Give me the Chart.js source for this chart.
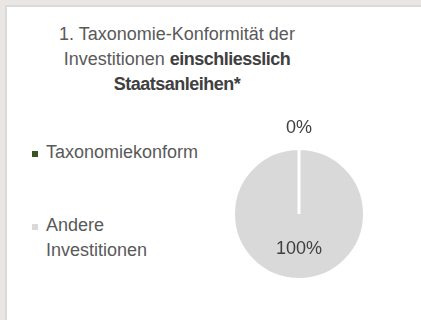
<!DOCTYPE html>
<html lang="de">
<head>
<meta charset="utf-8">
<script src="https://cdn.jsdelivr.net/npm/chart.js@4/dist/chart.umd.min.js"></script>
<style>
  html, body { margin: 0; padding: 0; width: 421px; height: 320px; overflow: hidden; background: #e9e6e3; }
  body { position: relative; font-family: "Liberation Sans", Arial, sans-serif; }
  #panel { position: absolute; left: 5px; top: 5px; right: 0; bottom: 0; background: #fff;
           border-left: 2px solid #dadada; border-top: 2px solid #dadada; }
  #title { position: absolute; left: 27px; top: 22px; width: 300px; text-align: center;
           font-size: 18px; line-height: 25px; color: #595959; white-space: nowrap; }
  #title b { color: #404040; letter-spacing: -0.5px; }
  #legend { position: absolute; left: 32px; top: 140px; font-size: 18px; line-height: 25px; color: #595959; }
  .item { position: relative; padding-left: 14px; }
  .item .box { position: absolute; left: 0; top: 11px; width: 6px; height: 6px; }
  #chart { position: absolute; left: 0; top: 0; }
</style>
</head>
<body>
<div id="panel"></div>
<div id="title">1. Taxonomie-Konformität der<br>Investitionen <b>einschliesslich</b><br><b>Staatsanleihen*</b></div>
<div id="legend"></div>
<canvas id="chart" width="421" height="320"></canvas>
<script>
// Share of investments (percent)
const categories = ["Taxonomiekonform", "Andere Investitionen"];
const legendLines = [["Taxonomiekonform"], ["Andere", "Investitionen"]];
const values = [0, 100];
const colors = ["#375623", "#d9d9d9"];

// Legend built from the same arrays
const legend = document.getElementById("legend");
categories.forEach((name, i) => {
  const item = document.createElement("div");
  item.className = "item";
  item.style.marginBottom = i === 0 ? "48px" : "0";
  const box = document.createElement("span");
  box.className = "box";
  box.style.background = colors[i];
  item.appendChild(box);
  item.appendChild(document.createTextNode(legendLines[i][0]));
  for (let k = 1; k < legendLines[i].length; k++) {
    item.appendChild(document.createElement("br"));
    item.appendChild(document.createTextNode(legendLines[i][k]));
  }
  legend.appendChild(item);
});

// Percentage labels: zero slices outside the rim, others inside
const sliceLabels = {
  id: "sliceLabels",
  afterDatasetsDraw(chart) {
    const ctx = chart.ctx;
    const meta = chart.getDatasetMeta(0);
    ctx.save();
    ctx.font = '18px "Liberation Sans", Arial, sans-serif';
    ctx.fillStyle = "#404040";
    ctx.textAlign = "center";
    ctx.textBaseline = "middle";
    meta.data.forEach((arc, i) => {
      const v = chart.data.datasets[0].data[i];
      const p = arc.getProps(["x", "y", "startAngle", "endAngle", "outerRadius"], true);
      const mid = (p.startAngle + p.endAngle) / 2;
      const r = v === 0 ? p.outerRadius + 20 : p.outerRadius * 0.54;
      ctx.fillText(v + "%", p.x + Math.cos(mid) * r, p.y + Math.sin(mid) * r);
    });
    ctx.restore();
  }
};

new Chart(document.getElementById("chart"), {
  type: "pie",
  data: {
    labels: categories,
    datasets: [{
      data: values,
      backgroundColor: colors,
      borderColor: "#ffffff",
      borderWidth: 3
    }]
  },
  options: {
    responsive: false,
    animation: false,
    radius: 65.5,
    layout: { padding: { left: 235, right: 58, top: 150, bottom: 42 } },
    plugins: { legend: { display: false }, tooltip: { enabled: false } }
  },
  plugins: [sliceLabels]
});
</script>
</body>
</html>
